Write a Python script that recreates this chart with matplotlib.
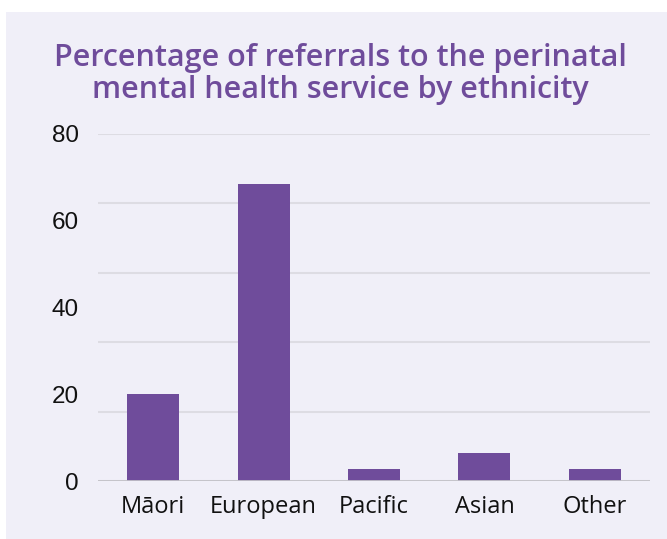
import matplotlib
matplotlib.use("Agg")
import matplotlib.pyplot as plt
from matplotlib.patches import Rectangle
from matplotlib.ticker import MultipleLocator

categories = ["Māori", "European", "Pacific", "Asian", "Other"]
values = [20.1, 68.4, 2.8, 6.5, 2.8]
y_ticks = [0, 20, 40, 60, 80]
title = "Percentage of referrals to the perinatal\nmental health service by ethnicity"

W, H = 667, 539
dpi = 100
fig = plt.figure(figsize=(W / dpi, H / dpi), dpi=dpi, facecolor="white")
bg = "#f0eff8"
purple = "#6f4c9b"
fig.patches.append(Rectangle((6 / W, 0), 1 - 6 / W, 1 - 12 / H, transform=fig.transFigure,
                             facecolor=bg, edgecolor="none", zorder=-10))

ax = fig.add_axes([98 / W, 1 - 481 / H, (650 - 98) / W, (481 - 134) / H])
ax.set_zorder(5)
ax.set_facecolor("none")
x = range(len(categories))
ax.bar(x, values, width=0.47, color=purple, zorder=3)
ax.set_xlim(-0.5, len(categories) - 0.5)
ax.set_ylim(0, 80)
ax.set_xticks(list(x))
ax.set_xticklabels(categories, fontsize=17, family="Open Sans", color="#111111")
ax.set_yticks(y_ticks)
ax.set_yticklabels([str(t) for t in y_ticks], fontsize=17.5, family="Liberation Sans", color="#111111")
ax.yaxis.remove_overlapping_locs = False
ax.yaxis.set_minor_locator(MultipleLocator(16))
ax.tick_params(axis="both", which="both", length=0)
ax.tick_params(axis="y", pad=14)
ax.tick_params(axis="x", pad=10)
ax.grid(False, which="major")
ax.grid(True, which="minor", axis="y", color="#dddce3", linewidth=1.5, zorder=1)
ax.axhline(0, color="#c3c2c8", linewidth=2, zorder=4)
for s in ax.spines.values():
    s.set_visible(False)

fig.text(340 / W, 1 - 74 / H, title, ha="center", va="center", fontsize=22,
         family="Open Sans", fontweight="semibold", color=purple, linespacing=1.1)

fig.savefig("out.png", dpi=dpi, facecolor="white")
